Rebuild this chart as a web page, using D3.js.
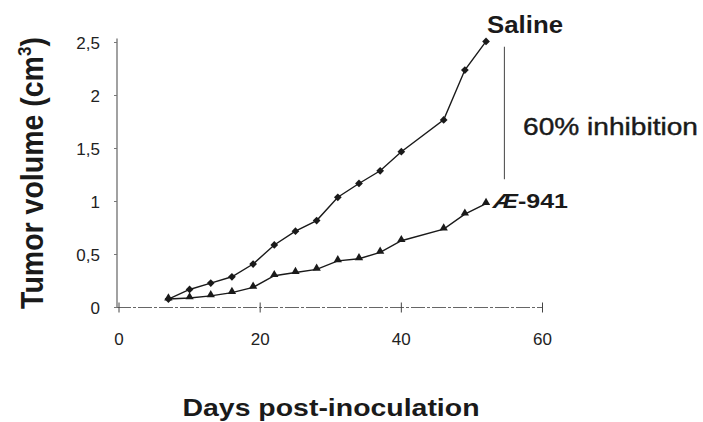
<!DOCTYPE html>
<html>
<head>
<meta charset="utf-8">
<script src="https://cdn.jsdelivr.net/npm/d3@7"></script>
<style>
  html, body { margin: 0; padding: 0; background: #fff; }
  svg { display: block; font-family: "Liberation Sans", Arial, Helvetica, sans-serif; }
</style>
</head>
<body>
<svg id="chart" width="703" height="422"></svg>
<script>
// Tumour growth after inoculation: saline vs AE-941 treated
let days = [7, 10, 13, 16, 19, 22, 25, 28, 31, 34, 37, 40, 46, 49, 52];
let saline = [0.08, 0.17, 0.23, 0.29, 0.41, 0.59, 0.72, 0.82, 1.04, 1.17, 1.29, 1.47, 1.77, 2.24, 2.51];
let ae941 = [0.08, 0.09, 0.11, 0.14, 0.19, 0.30, 0.33, 0.36, 0.44, 0.46, 0.52, 0.63, 0.74, 0.88, 0.98];

let xTicks = [0, 20, 40, 60];
let yTicks = [0, 0.5, 1, 1.5, 2, 2.5];
let yTickLabels = ["0", "0,5", "1", "1,5", "2", "2,5"];

// vertical bar between the two curves at the end
let gapDay = 54.6;
let gapRange = [1.21, 2.46];

let svg = d3.select("#chart");

let x = d3.scaleLinear()
  .domain([0, 60])
  .range([119, 542.5]);

let y = d3.scaleLinear()
  .domain([0, 2.5])
  .range([307.5, 42.5]);

let ink = "#1a1a1a";

// y axis
svg.append("line")
  .attr("x1", 117).attr("x2", 117)
  .attr("y1", y(2.5) - 4).attr("y2", y(0))
  .attr("stroke", "#555").attr("stroke-width", 1.1);

svg.selectAll(".ytick")
  .data(yTicks)
  .enter()
  .append("line")
  .attr("class", "ytick")
  .attr("x1", 114).attr("x2", 117)
  .attr("y1", d => y(d)).attr("y2", d => y(d))
  .attr("stroke", "#777").attr("stroke-width", 1);

svg.selectAll(".ylab")
  .data(yTicks)
  .enter()
  .append("text")
  .attr("class", "ylab")
  .attr("x", 100)
  .attr("y", d => y(d) + 6)
  .attr("text-anchor", "end")
  .attr("font-size", 17)
  .attr("fill", "#222")
  .text((d, i) => yTickLabels[i]);

// x axis (light, slightly broken line in the print)
svg.append("line")
  .attr("x1", x(0) - 2).attr("x2", x(60))
  .attr("y1", y(0)).attr("y2", y(0))
  .attr("stroke", "#666").attr("stroke-width", 1)
  .attr("stroke-dasharray", "14 2 3 2");

svg.selectAll(".xtick")
  .data(xTicks)
  .enter()
  .append("line")
  .attr("class", "xtick")
  .attr("x1", d => x(d)).attr("x2", d => x(d))
  .attr("y1", y(0) - 5).attr("y2", y(0) + 5)
  .attr("stroke", "#444").attr("stroke-width", 1);

svg.selectAll(".xlab")
  .data(xTicks)
  .enter()
  .append("text")
  .attr("class", "xlab")
  .attr("x", d => x(d))
  .attr("y", 345)
  .attr("text-anchor", "middle")
  .attr("font-size", 17)
  .attr("fill", "#222")
  .text(d => d);

// series
let line = d3.line()
  .x(d => x(d[0]))
  .y(d => y(d[1]));

let salinePts = days.map((d, i) => [d, saline[i]]);
let aePts = days.map((d, i) => [d, ae941[i]]);

svg.append("path")
  .datum(salinePts)
  .attr("d", line)
  .attr("fill", "none")
  .attr("stroke", ink)
  .attr("stroke-width", 1.4);

svg.append("path")
  .datum(aePts)
  .attr("d", line)
  .attr("fill", "none")
  .attr("stroke", ink)
  .attr("stroke-width", 1.4);

// square turned 45 degrees gives a squat diamond
let diamond = d3.symbol().type(d3.symbolSquare).size(30);
let triangle = d3.symbol().type(d3.symbolTriangle).size(30);

svg.selectAll(".sal")
  .data(salinePts)
  .enter()
  .append("path")
  .attr("class", "sal")
  .attr("d", diamond)
  .attr("transform", d => "translate(" + x(d[0]) + "," + y(d[1]) + ") rotate(45)")
  .attr("fill", ink);

svg.selectAll(".ae")
  .data(aePts)
  .enter()
  .append("path")
  .attr("class", "ae")
  .attr("d", triangle)
  .attr("transform", d => "translate(" + x(d[0]) + "," + (y(d[1]) - 1) + ")")
  .attr("fill", ink);

// inhibition bar
svg.append("line")
  .attr("x1", x(gapDay)).attr("x2", x(gapDay))
  .attr("y1", y(gapRange[1])).attr("y2", y(gapRange[0]))
  .attr("stroke", "#444").attr("stroke-width", 1);

// annotations
svg.append("text")
  .attr("x", 487).attr("y", 33)
  .attr("font-size", 23).attr("font-weight", "bold")
  .attr("textLength", 76).attr("lengthAdjust", "spacingAndGlyphs")
  .attr("fill", ink)
  .text("Saline");

svg.append("text")
  .attr("x", 523).attr("y", 135)
  .attr("font-size", 23)
  .attr("stroke", ink).attr("stroke-width", 0.4)
  .attr("textLength", 175).attr("lengthAdjust", "spacingAndGlyphs")
  .attr("fill", ink)
  .text("60% inhibition");

let aeLabel = svg.append("text")
  .attr("x", 493).attr("y", 208)
  .attr("font-size", 21).attr("font-weight", "bold")
  .attr("textLength", 75).attr("lengthAdjust", "spacingAndGlyphs")
  .attr("fill", ink);
aeLabel.append("tspan").attr("font-style", "italic").text("Æ");
aeLabel.append("tspan").text("-941");

// axis titles
svg.append("text")
  .attr("x", 331).attr("y", 416)
  .attr("text-anchor", "middle")
  .attr("font-size", 24).attr("font-weight", "bold")
  .attr("textLength", 297).attr("lengthAdjust", "spacingAndGlyphs")
  .attr("fill", ink)
  .text("Days post-inoculation");

let yTitle = svg.append("text")
  .attr("transform", "translate(43,173) scale(1.08,1) rotate(-90)")
  .attr("text-anchor", "middle")
  .attr("font-size", 28.5).attr("font-weight", "bold")
  .attr("fill", ink);
yTitle.append("tspan").text("Tumor volume (cm");
yTitle.append("tspan").attr("font-size", 17).attr("dy", -11).text("3");
yTitle.append("tspan").attr("dy", 11).text(")");
</script>
</body>
</html>
